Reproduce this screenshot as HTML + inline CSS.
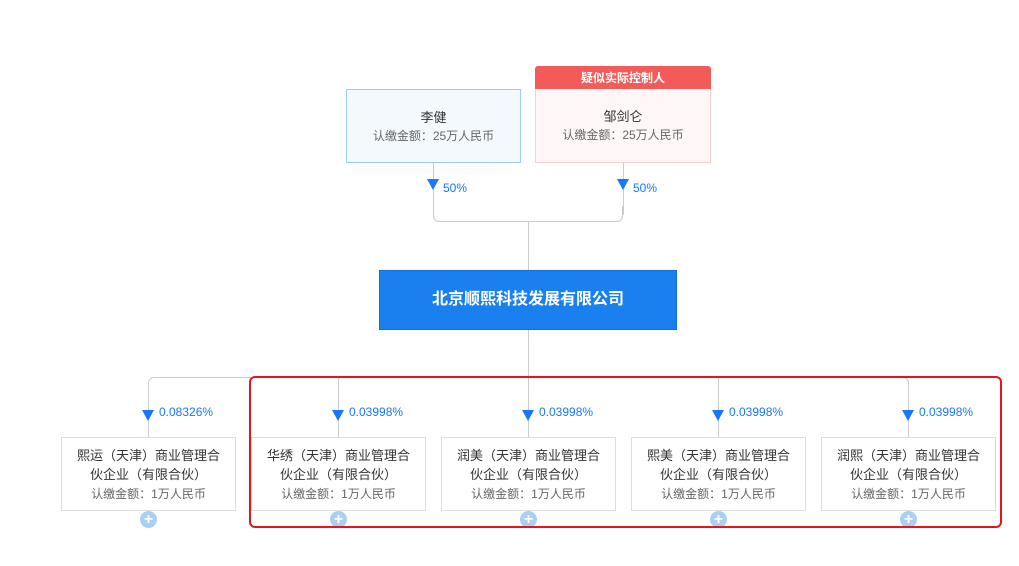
<!DOCTYPE html>
<html><head><meta charset="utf-8"><style>
body{margin:0;width:1019px;height:566px;background:#fff;position:relative;overflow:hidden;font-family:"Liberation Sans","Noto Sans CJK SC",sans-serif;}
.b{position:absolute;box-sizing:border-box;text-align:center;color:#333;}
.sm{font-size:12px;color:#666;}
.arr{position:absolute;width:0;height:0;border-left:6px solid transparent;border-right:6px solid transparent;border-top:11px solid #1677ff;}
.pct{position:absolute;font-size:12px;color:#1677ff;}
.ln{position:absolute;background:#ccc;}
.plus{position:absolute;width:17px;height:17px;border-radius:50%;background:#a9cff5;color:#fff;font-size:16px;line-height:17px;text-align:center;font-weight:bold;}
</style></head><body>
<!-- top lines -->
<div class="ln" style="left:433px;top:163px;width:1px;height:52px"></div>
<div class="ln" style="left:623px;top:163px;width:1px;height:52px"></div>
<div style="position:absolute;left:433px;top:206px;width:190px;height:16px;border:1px solid #ccc;border-top:none;border-radius:0 0 6px 6px;box-sizing:border-box"></div>
<div class="ln" style="left:528px;top:221px;width:1px;height:49px"></div>
<div class="ln" style="left:528px;top:330px;width:1px;height:47px"></div>
<div style="position:absolute;left:148px;top:377px;width:761px;height:60px;border:1px solid #ccc;border-bottom:none;border-radius:6px 6px 0 0;box-sizing:border-box"></div>
<div class="ln" style="left:338px;top:377px;width:1px;height:60px"></div>
<div class="ln" style="left:528px;top:377px;width:1px;height:60px"></div>
<div class="ln" style="left:718px;top:377px;width:1px;height:60px"></div>

<div class="b" style="left:346px;top:89px;width:175px;height:74px;border:1px solid #9ccbf7;background:#f4f9fe;padding-top:19px;font-size:13px;line-height:18px">李健<br><span class="sm">认缴金额：25万人民币</span></div>
<div class="b" style="left:535px;top:66px;width:176px;height:24px;background:#f25b58;color:#fff;font-size:12px;font-weight:bold;line-height:24px;border-radius:3px 3px 0 0">疑似实际控制人</div>
<div style="position:absolute;left:618px;top:89px;width:0;height:0;border-left:5px solid transparent;border-right:5px solid transparent;border-top:5px solid #f25b58"></div>
<div class="b" style="left:535px;top:89px;width:176px;height:74px;border:1px solid #f8cfcf;border-top:none;background:#fff7f7;padding-top:19px;font-size:13px;line-height:18px">邹剑仑<br><span class="sm">认缴金额：25万人民币</span></div>
<div class="arr" style="left:427px;top:179px"></div><div class="pct" style="left:443px;top:181px">50%</div>
<div class="arr" style="left:617px;top:179px"></div><div class="pct" style="left:633px;top:181px">50%</div>

<div class="b" style="left:379px;top:270px;width:298px;height:60px;background:#1a80f0;border:1px solid #0f6fd8;color:#fff;font-weight:bold;font-size:16px;line-height:58px">北京顺熙科技发展有限公司</div>

<div class="b" style="left:61px;top:437px;width:175px;height:74px;border:1px solid #ddd;padding-top:8px;font-size:13px;line-height:19px">熙运（天津）商业管理合<br>伙企业（有限合伙）<br><span class="sm">认缴金额：1万人民币</span></div>
<div class="arr" style="left:142px;top:410px"></div><div class="pct" style="left:159px;top:405px">0.08326%</div>
<div class="plus" style="left:140px;top:511px">+</div>

<div class="b" style="left:251px;top:437px;width:175px;height:74px;border:1px solid #ddd;padding-top:8px;font-size:13px;line-height:19px">华绣（天津）商业管理合<br>伙企业（有限合伙）<br><span class="sm">认缴金额：1万人民币</span></div>
<div class="arr" style="left:332px;top:410px"></div><div class="pct" style="left:349px;top:405px">0.03998%</div>
<div class="plus" style="left:330px;top:511px">+</div>

<div class="b" style="left:441px;top:437px;width:175px;height:74px;border:1px solid #ddd;padding-top:8px;font-size:13px;line-height:19px">润美（天津）商业管理合<br>伙企业（有限合伙）<br><span class="sm">认缴金额：1万人民币</span></div>
<div class="arr" style="left:522px;top:410px"></div><div class="pct" style="left:539px;top:405px">0.03998%</div>
<div class="plus" style="left:520px;top:511px">+</div>

<div class="b" style="left:631px;top:437px;width:175px;height:74px;border:1px solid #ddd;padding-top:8px;font-size:13px;line-height:19px">熙美（天津）商业管理合<br>伙企业（有限合伙）<br><span class="sm">认缴金额：1万人民币</span></div>
<div class="arr" style="left:712px;top:410px"></div><div class="pct" style="left:729px;top:405px">0.03998%</div>
<div class="plus" style="left:710px;top:511px">+</div>

<div class="b" style="left:821px;top:437px;width:175px;height:74px;border:1px solid #ddd;padding-top:8px;font-size:13px;line-height:19px">润熙（天津）商业管理合<br>伙企业（有限合伙）<br><span class="sm">认缴金额：1万人民币</span></div>
<div class="arr" style="left:902px;top:410px"></div><div class="pct" style="left:919px;top:405px">0.03998%</div>
<div class="plus" style="left:900px;top:511px">+</div>

<div style="position:absolute;left:249px;top:376px;width:753px;height:152px;border:2px solid #e8141b;border-radius:6px;box-sizing:border-box"></div>
</body></html>
